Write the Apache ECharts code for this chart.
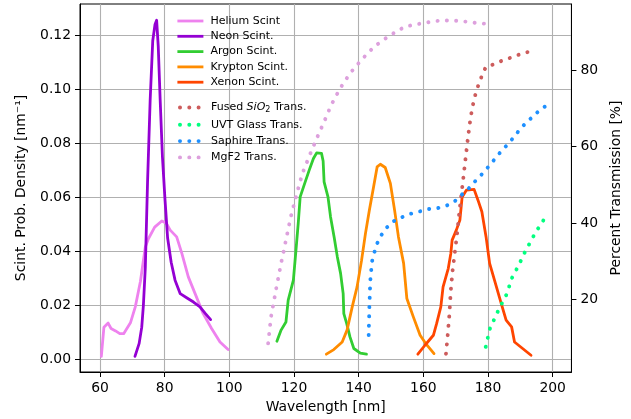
<!DOCTYPE html>
<html>
<head>
<meta charset="utf-8">
<script src="https://cdn.jsdelivr.net/npm/echarts@6/dist/echarts.min.js"></script>
<style>html,body{margin:0;padding:0;background:#fff}#c{width:631px;height:419px}</style>
</head>
<body>
<div id="c"></div>
<script>
// ---- data (wavelength in nm, scintillation probability density in nm^-1, transmission in %) ----
const heliumWl  = [60.4, 61.2, 62.5, 63.4, 64.8, 66.1, 67.3, 69.4, 70.9, 72.5, 74.0, 75.0, 76.9, 79.1, 80.5, 81.7, 83.7, 85.3, 87.3, 89.4, 91.9, 94.5, 97.1, 99.6];
const heliumVal = [0.0012, 0.012, 0.0135, 0.0115, 0.0106, 0.0096, 0.0096, 0.0136, 0.0195, 0.029, 0.0417, 0.0448, 0.049, 0.0513, 0.0505, 0.0479, 0.0454, 0.0393, 0.0306, 0.0244, 0.017, 0.0115, 0.0065, 0.0037];

const neonWl  = [70.8, 72.1, 72.9, 73.4, 74.0, 74.7, 75.5, 76.3, 77.0, 77.5, 78.0, 78.6, 79.3, 80.1, 80.9, 82.0, 83.2, 84.8, 86.9, 88.9, 90.9, 92.6, 94.2];
const neonVal = [0.0012, 0.006, 0.012, 0.02, 0.034, 0.066, 0.096, 0.118, 0.124, 0.1256, 0.116, 0.096, 0.075, 0.059, 0.045, 0.036, 0.0294, 0.0244, 0.0228, 0.0213, 0.0195, 0.017, 0.0148];

const argonWl  = [114.7, 116.0, 117.5, 118.2, 119.8, 120.6, 121.3, 121.9, 123.3, 124.7, 126.0, 127.0, 128.5, 129.0, 129.3, 130.5, 131.3, 132.4, 133.4, 134.4, 135.2, 135.4, 136.3, 137.3, 138.5, 140.5, 142.4];
const argonVal = [0.0068, 0.0109, 0.0139, 0.022, 0.0294, 0.0405, 0.0504, 0.0602, 0.0652, 0.0701, 0.0744, 0.0765, 0.0763, 0.0735, 0.0658, 0.0602, 0.0528, 0.0454, 0.038, 0.0319, 0.0244, 0.017, 0.0133, 0.0084, 0.0041, 0.0024, 0.002];

const kryptonWl  = [130.0, 132.3, 134.9, 136.4, 138.0, 139.5, 140.9, 142.1, 143.3, 144.6, 145.7, 146.7, 148.2, 149.8, 151.1, 152.3, 153.9, 154.9, 156.9, 159.0, 161.0, 163.3];
const kryptonVal = [0.002, 0.0037, 0.0065, 0.0109, 0.0195, 0.0269, 0.0368, 0.0467, 0.0553, 0.0639, 0.0713, 0.0723, 0.0711, 0.0652, 0.0553, 0.0454, 0.0356, 0.0226, 0.0158, 0.009, 0.0055, 0.0022];

const xenonWl  = [158.3, 160.5, 163.1, 164.1, 165.4, 166.1, 167.7, 168.5, 168.9, 170.2, 171.3, 172.0, 173.3, 175.7, 176.9, 178.1, 179.4, 180.5, 182.0, 184.1, 185.6, 187.3, 188.2, 190.7, 193.3];
const xenonVal = [0.002, 0.0053, 0.009, 0.0133, 0.0195, 0.0269, 0.0337, 0.0393, 0.0442, 0.0479, 0.0516, 0.0602, 0.0627, 0.063, 0.059, 0.0547, 0.0454, 0.0356, 0.0294, 0.0207, 0.0146, 0.0121, 0.0065, 0.0041, 0.0016];

const fusedWl = [167.0, 167.5, 168.0, 168.5, 169.0, 169.7, 170.4, 171.1, 171.8, 172.3, 173.0, 173.6, 174.3, 175.1, 176.2, 177.2, 178.4, 179.4, 181.2, 183.6, 186.6, 189.2, 191.7, 194.5];
const fusedTr = [5.7, 10.3, 15.4, 22.4, 27.2, 32.0, 36.8, 42.5, 47.7, 51.2, 56.5, 60.9, 65.7, 70.1, 74.0, 76.6, 79.2, 81.0, 81.4, 82.3, 83.2, 84.0, 84.7, 85.1];

const uvtWl = [179.3, 180.5, 181.8, 183.0, 184.3, 185.9, 187.3, 188.7, 190.0, 191.2, 192.6, 194.0, 195.3, 196.9, 198.2];
const uvtTr = [7.5, 12.1, 14.5, 16.7, 18.9, 21.5, 25.4, 27.6, 29.8, 32.0, 34.2, 36.4, 38.3, 40.3, 42.5];

const sapphireWl = [143.1, 143.3, 143.6, 144.1, 144.9, 145.7, 147.0, 148.7, 150.5, 153.1, 155.6, 158.5, 161.3, 164.1, 166.9, 169.5, 171.3, 173.6, 175.4, 177.4, 179.3, 181.0, 182.8, 184.6, 186.6, 188.4, 190.2, 192.0, 194.1, 196.2, 198.4];
const sapphireTr = [10.6, 18.0, 25.0, 29.8, 32.4, 34.6, 36.8, 38.8, 40.3, 41.4, 42.3, 42.9, 43.6, 43.8, 44.4, 45.5, 47.0, 48.6, 50.4, 52.1, 53.9, 55.6, 57.5, 59.3, 61.0, 63.0, 64.8, 66.5, 68.0, 69.8, 70.9];

const mgf2Wl = [112.0, 112.9, 114.4, 116.0, 117.5, 119.0, 120.6, 122.6, 125.2, 127.2, 129.3, 131.5, 134.2, 137.3, 141.0, 144.9, 149.5, 154.4, 159.9, 165.4, 171.0, 176.5, 179.4];
const mgf2Tr = [8.4, 15.4, 22.4, 29.4, 35.5, 41.6, 46.9, 53.0, 58.5, 62.5, 66.5, 70.9, 75.2, 79.2, 82.9, 86.3, 89.1, 91.5, 92.4, 93.1, 93.0, 92.4, 92.2];

const xTicks = [60, 80, 100, 120, 140, 160, 180, 200];
const yLeftTicks = [0, 0.02, 0.04, 0.06, 0.08, 0.10, 0.12];
const yRightTicks = [20, 40, 60, 80];

const scintNames = ['Helium Scint', 'Neon Scint.', 'Argon Scint.', 'Krypton Scint.', 'Xenon Scint.'];
const transNames = ['Fused SiO2 Trans.', 'UVT Glass Trans.', 'Saphire Trans.', 'MgF2 Trans.'];

// ---- build ----
const zip = (a, b) => a.map((v, i) => [v, b[i]]);
const FONT = 'DejaVu Sans';
const DOT = [0.1, 9.2];

function solid(name, wl, val, color) {
  return {
    name, type: 'line', xAxisIndex: 0, yAxisIndex: 0,
    data: zip(wl, val), showSymbol: false, symbol: 'none', animation: false,
    lineStyle: { color, width: 2.8, join: 'round', cap: 'round' },
    itemStyle: { color }
  };
}
function dotted(name, wl, val, color) {
  return {
    name, type: 'line', xAxisIndex: 0, yAxisIndex: 1,
    data: zip(wl, val), showSymbol: false, symbol: 'none', animation: false,
    lineStyle: { color, width: 3.9, type: DOT, cap: 'round', join: 'miter' },
    itemStyle: { color }
  };
}

const series = [
  solid(scintNames[0], heliumWl, heliumVal, '#EE82EE'),
  solid(scintNames[1], neonWl, neonVal, '#9400D3'),
  solid(scintNames[2], argonWl, argonVal, '#32CD32'),
  solid(scintNames[3], kryptonWl, kryptonVal, '#FF8C00'),
  solid(scintNames[4], xenonWl, xenonVal, '#FF4500'),
  dotted(transNames[0], fusedWl, fusedTr, '#CD5C5C'),
  dotted(transNames[1], uvtWl, uvtTr, '#00FF7F'),
  dotted(transNames[2], sapphireWl, sapphireTr, '#1E90FF'),
  dotted(transNames[3], mgf2Wl, mgf2Tr, '#DDA0DD')
];

const tickStyle = { show: true, inside: false, length: 5, lineStyle: { color: '#000', width: 1 } };
const labelStyle = { color: '#000', fontFamily: FONT, fontSize: 13.9, margin: 9 };

const legendCommon = {
  orient: 'vertical', left: 176, padding: 0, itemWidth: 26, itemHeight: 11,
  itemStyle: { opacity: 0 },
  textStyle: { fontFamily: FONT, fontSize: 11, color: '#000', padding: [0, 0, 0, 2],
    rich: {
      a: { fontFamily: FONT, fontSize: 11, color: '#000' },
      b: { fontFamily: FONT, fontSize: 11, color: '#000', fontStyle: 'italic' },
      c: { fontFamily: FONT, fontSize: 8, color: '#000', padding: [5, 0, 0, 0] }
    }
  },
  selectedMode: false
};

const option = {
  animation: false,
  backgroundColor: '#fff',
  grid: { left: 80, right: 57, top: 4, bottom: 47, show: true, borderColor: '#000', borderWidth: 1, backgroundColor: 'transparent' },
  legend: [
    Object.assign({}, legendCommon, { top: 15.5, itemGap: 4.3, data: scintNames,
      lineStyle: { width: 2.8, cap: 'butt' } }),
    Object.assign({}, legendCommon, { top: 102, itemGap: 5.3, data: transNames,
      lineStyle: { width: 3.9, type: DOT, cap: 'round', dashOffset: -2 },
      formatter: n => n === 'Fused SiO2 Trans.' ? '{a|Fused }{b|SiO}{c|2}{a| Trans.}' : n })
  ],
  xAxis: {
    type: 'value', min: 53.8, max: 205.8,
    name: 'Wavelength [nm]', nameLocation: 'middle', nameGap: 26,
    nameTextStyle: { fontFamily: FONT, fontSize: 13.9, color: '#000' },
    axisLine: { show: true, onZero: false, lineStyle: { color: '#000', width: 1 } },
    axisTick: Object.assign({ customValues: xTicks }, tickStyle),
    axisLabel: Object.assign({ customValues: xTicks, formatter: v => String(v) }, labelStyle),
    splitLine: { show: true, lineStyle: { color: '#b0b0b0', width: 1.1 } }
  },
  yAxis: [
    {
      type: 'value', position: 'left', min: -0.0046, max: 0.1316,
      name: 'Scint. Prob. Density [nm\u207B\u00B9]', nameLocation: 'middle', nameGap: 52, nameRotate: 90,
      nameTextStyle: { fontFamily: FONT, fontSize: 13.9, color: '#000' },
      axisLine: { show: true, onZero: false, lineStyle: { color: '#000', width: 1 } },
      axisTick: Object.assign({ customValues: yLeftTicks }, tickStyle),
      axisLabel: Object.assign({ customValues: yLeftTicks, formatter: v => v.toFixed(2) }, labelStyle),
      splitLine: { show: true, lineStyle: { color: '#b0b0b0', width: 1.1 } }
    },
    {
      type: 'value', position: 'right', min: 0.9, max: 97.4,
      name: 'Percent Transmission [%]', nameLocation: 'middle', nameGap: 25, nameRotate: 90,
      nameTextStyle: { fontFamily: FONT, fontSize: 13.9, color: '#000' },
      axisLine: { show: true, onZero: false, lineStyle: { color: '#000', width: 1 } },
      axisTick: Object.assign({ customValues: yRightTicks }, tickStyle),
      axisLabel: Object.assign({ customValues: yRightTicks, formatter: v => String(v) }, labelStyle),
      splitLine: { show: false }
    }
  ],
  series
};

const chart = echarts.init(document.getElementById('c'), null, { renderer: 'canvas' });
chart.setOption(option);
</script>
</body>
</html>
